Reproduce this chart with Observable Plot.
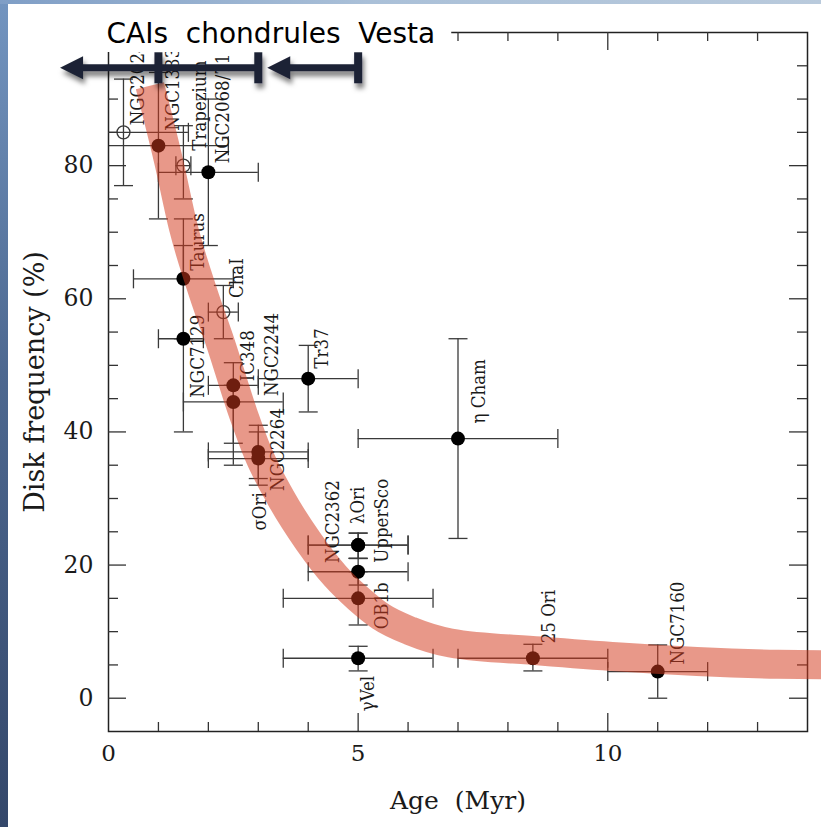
<!DOCTYPE html>
<html>
<head>
<meta charset="utf-8">
<script src="https://cdn.jsdelivr.net/npm/d3@7"></script>
<script src="https://cdn.jsdelivr.net/npm/@observablehq/plot@0.6"></script>
<style>
  html, body { margin: 0; padding: 0; background: #fff; overflow: hidden; }
  #wrap { position: relative; width: 821px; height: 827px; }
  #leftStrip { position: absolute; left: 0; top: 0; width: 8px; height: 827px;
    background: linear-gradient(to bottom, #7395c0 0%, #4d6890 45%, #34476a 100%); }
  #topStrip { position: absolute; left: 0; top: 0; width: 821px; height: 4px;
    background: linear-gradient(to right, #7f9ec6 0%, #aac0d8 45%, #b9cadc 100%); }
</style>
</head>
<body>
<div id="wrap"><div id="chart"></div><div id="leftStrip"></div><div id="topStrip"></div></div>
<script>
// ---------- data ----------
const clusters = ["NGC2024","NGC1333","Trapezium","NGC2068/71","Taurus","ChaI","NGC7129","IC348","NGC2244","NGC2264","σOri","Tr37","NGC2362","λOri","UpperSco","OB1b","γVel","η Cham","25 Ori","NGC7160"];
const age      = [0.3, 1.0, 1.5, 2.0, 1.5, 2.3, 1.5, 2.5, 2.5, 3.0, 3.0, 4.0, 5.0, 5.0, 5.0, 5.0, 5.0, 7.0, 8.5, 11.0];
const ageLo    = [-1.0,-0.4, 1.35,1.0, 0.5, 2.0, 1.0, 2.0, 1.5, 2.0, 2.0, 3.0, 4.0, 4.0, 4.0, 3.5, 3.5, 5.0, 7.0, 10.0];
const ageHi    = [1.6, 2.4, 1.65,3.0, 2.5, 2.6, 1.9, 3.0, 3.5, 4.0, 4.0, 5.0, 6.0, 6.0, 6.0, 6.5, 6.5, 9.0, 10.0, 12.0];
const diskFreq = [85, 83, 80, 79, 63, 58, 54, 47, 44.5, 37, 36, 48, 23, 23, 19, 15, 6, 39, 6, 4];
const freqLo   = [77, 72, 75, 68, 54, 54, 40, 38.3, 35, 33, 32, 43, 21, 21, 17, 11, 4.1, 24, 4.1, 0];
const freqHi   = [93, 94, 86, 90, 72, 62, 68, 50.4, 47, 41, 40, 53, 24.8, 24.8, 21, 19, 7.8, 54, 8.1, 8];
const openSym  = [true, false, true, false, false, true, false, false, false, false, false, false, false, false, false, false, false, false, false, false];

// thick decay band
const bandAge  = [0.83, 1.2, 1.5, 1.9, 2.25, 2.7, 3.0, 3.45, 4.0, 4.55, 5.0, 5.45, 6.05, 6.85, 8.65, 10.25, 13.4, 14.5];
const bandFreq = [92, 80.8, 70.7, 60.8, 53.2, 42.7, 36.7, 30.1, 23.6, 18.3, 15.0, 12.3, 10.1, 8.3, 7.1, 6.2, 5.1, 5.0];

// meteoritic timeline arrows
const arrowFrom = [3, 5];
const arrowTo   = [-0.97, 3.18];
const arrowCaps = [1, 3, 5];
const arrowLevel = 94.7;
const timelineTitle = "CAIs  chondrules  Vesta";

const xTickLabels = [0, 5, 10];
const yTickLabels = [0, 20, 40, 60, 80];

// ---------- layout ----------
const W = 821, H = 827, mL = 108, mR = 14, mT = 32, mB = 96;
const innerW = W - mL - mR, innerH = H - mT - mB;
const serif = "DejaVu Serif";
const labelFont = "'DejaVu Serif Condensed', 'DejaVu Serif'";
const ink = "#1a1a1a", barColor = "#3a3a3a", navy = "#1c2235";

const labelOffsets = {
  "NGC2024": [14.5, -7], "NGC1333": [15, -15], "Trapezium": [17, -15], "NGC2068/71": [15, -9],
  "Taurus": [15, -8], "ChaI": [14, -14], "NGC7129": [15, 59], "IC348": [15, -4],
  "NGC2244": [39, -6], "NGC2264": [20, 39], "σOri": [2, 72], "Tr37": [14, -10],
  "NGC2362": [-25, 18], "λOri": [0, -21], "UpperSco": [24, -9], "OB1b": [24, 31],
  "γVel": [10, 53], "η Cham": [21, -15], "25 Ori": [16, -15], "NGC7160": [20, -7]
};

const rows = clusters.map((name, i) => ({
  name, age: age[i], ageLo: ageLo[i], ageHi: ageHi[i],
  freq: diskFreq[i], freqLo: freqLo[i], freqHi: freqHi[i], open: openSym[i]
}));
const band = bandAge.map((a, i) => ({age: a, freq: bandFreq[i]}));
const arrows = arrowFrom.map((f, i) => ({from: f, to: arrowTo[i]}));

// custom symbols
const vCap = {draw(ctx) { ctx.moveTo(0, -9.5); ctx.lineTo(0, 9.5); }};
const hCap = {draw(ctx) { ctx.moveTo(-9.5, 0); ctx.lineTo(9.5, 0); }};
const bigCap = {draw(ctx) { ctx.moveTo(0, -15.5); ctx.lineTo(0, 15.5); }};
const headLeft = {draw(ctx) { ctx.moveTo(0, 0); ctx.lineTo(23, -11.5); ctx.lineTo(23, 11.5); ctx.closePath(); }};

const xMinor = d3.range(1, 14).filter(v => v % 5 !== 0);
const xMajor = d3.range(5, 14, 5);
const yMinor = d3.range(5, 100, 5).filter(v => v % 20 !== 0);
const yMajor = d3.range(0, 100, 20);

const tickStyle = {stroke: "#333", strokeWidth: 1.3};
const tag = (s) => () => s;

const labelMarks = rows.map(r => Plot.text([r], {
  x: "age", y: "freq", text: "name", rotate: -90, textAnchor: "start", lineAnchor: "middle",
  dx: labelOffsets[r.name][0], dy: labelOffsets[r.name][1],
  fontSize: 18.5, fontFamily: labelFont, fill: ink
}));

const chart = Plot.plot({
  width: W, height: H,
  marginLeft: mL, marginRight: mR, marginTop: mT, marginBottom: mB,
  x: {domain: [0, 14]},
  y: {domain: [-5, 100]},
  style: {background: "white", overflow: "visible"},
  marks: [
    // error bars
    Plot.ruleY(rows, {y: "freq", x1: "ageLo", x2: "ageHi", stroke: barColor, strokeWidth: 1.3, clip: "frame"}),
    Plot.ruleX(rows, {x: "age", y1: "freqLo", y2: "freqHi", stroke: barColor, strokeWidth: 1.3, clip: "frame"}),
    Plot.dot(rows, {x: "ageLo", y: "freq", symbol: vCap, r: 1, fill: "none", stroke: barColor, strokeWidth: 1.3, clip: "frame"}),
    Plot.dot(rows, {x: "ageHi", y: "freq", symbol: vCap, r: 1, fill: "none", stroke: barColor, strokeWidth: 1.3, clip: "frame"}),
    Plot.dot(rows, {x: "age", y: "freqLo", symbol: hCap, r: 1, fill: "none", stroke: barColor, strokeWidth: 1.3, clip: "frame"}),
    Plot.dot(rows, {x: "age", y: "freqHi", symbol: hCap, r: 1, fill: "none", stroke: barColor, strokeWidth: 1.3, clip: "frame"}),
    // points
    Plot.dot(rows.filter(d => !d.open), {x: "age", y: "freq", r: 7, fill: "#000", stroke: "none"}),
    Plot.dot(rows.filter(d => d.open), {x: "age", y: "freq", r: 6.5, fill: "none", stroke: barColor, strokeWidth: 1.3}),
    // labels
    ...labelMarks,
    // frame & ticks
    Plot.frame({stroke: "#222", strokeWidth: 1.5}),
    Plot.ruleX(xMinor, {x: d => d, insetTop: innerH - 9, ...tickStyle}),
    Plot.ruleX(xMinor, {x: d => d, insetBottom: innerH - 9, ...tickStyle}),
    Plot.ruleX(xMajor, {x: d => d, insetTop: innerH - 18, ...tickStyle}),
    Plot.ruleX(xMajor, {x: d => d, insetBottom: innerH - 18, ...tickStyle}),
    Plot.ruleY(yMinor, {y: d => d, insetRight: innerW - 10, ...tickStyle}),
    Plot.ruleY(yMinor, {y: d => d, insetLeft: innerW - 10, ...tickStyle}),
    Plot.ruleY(yMajor, {y: d => d, insetRight: innerW - 18, ...tickStyle}),
    Plot.ruleY(yMajor, {y: d => d, insetLeft: innerW - 18, ...tickStyle}),
    // tick labels
    Plot.axisX(xTickLabels, {anchor: "bottom", tickSize: 0, tickPadding: 13, fontSize: 23, fontFamily: serif, fill: ink, label: null}),
    Plot.axisY(yTickLabels, {anchor: "left", tickSize: 0, tickPadding: 15, fontSize: 23.5, fontFamily: serif, fill: ink, label: null}),
    // axis titles
    Plot.text(["Age  (Myr)"], {frameAnchor: "bottom", textAnchor: "middle", lineAnchor: "bottom", dy: 77, fontSize: 25, fontFamily: serif, fill: ink, ariaLabel: tag("xtitle")}),
    Plot.text(["Disk frequency (%)"], {frameAnchor: "left", textAnchor: "middle", rotate: -90, lineAnchor: "bottom", dx: -65, fontSize: 27, fontFamily: serif, fill: ink, ariaLabel: tag("ytitle")}),
    // band
    Plot.line(band, {x: "age", y: "freq", stroke: "rgb(211,58,29)", strokeOpacity: 0.52, strokeWidth: 29,
      curve: "monotone-x", strokeLinecap: "butt", strokeLinejoin: "round"}),
    // arrows
    Plot.ruleY(arrows, {y: () => arrowLevel, x1: "to", x2: "from", insetLeft: 20, stroke: navy, strokeWidth: 7, ariaLabel: tag("arrow")}),
    Plot.dot(arrows, {x: "to", y: () => arrowLevel, symbol: headLeft, r: 1, fill: navy, stroke: "none", ariaLabel: tag("arrow")}),
    Plot.dot(arrowCaps, {x: d => d, y: () => arrowLevel, symbol: bigCap, r: 1, fill: "none", stroke: navy, strokeWidth: 8, ariaLabel: tag("arrow")}),
    // timeline title
    Plot.text([timelineTitle], {frameAnchor: "top-left", textAnchor: "start", lineAnchor: "bottom", dx: -2, dy: 10,
      fontSize: 28, fontFamily: "DejaVu Sans", fill: "#000", ariaLabel: tag("title")})
  ]
});

document.getElementById("chart").appendChild(chart);
const svg = d3.select(chart);
svg.selectAll('text[aria-label="xtitle"], text[aria-label="title"]').style("white-space", "pre");

// shadow for arrows
const defs = svg.insert("defs", ":first-child");
const f = defs.append("filter").attr("id", "arrowShadow").attr("x", "-20%").attr("y", "-80%").attr("width", "140%").attr("height", "260%");
f.append("feDropShadow").attr("dx", 2).attr("dy", 5).attr("stdDeviation", 2.5).attr("flood-color", "#000").attr("flood-opacity", 0.5);

const titleText = svg.select('text[aria-label="title"]').node();
const titleGroup = titleText ? titleText.closest("svg > g") || titleText.parentNode : null;

const arrowGroups = Array.from(new Set(svg.selectAll('[aria-label="arrow"]').nodes().map(n => n.closest("svg > g") || n.parentNode)));
const arrowWrap = document.createElementNS("http://www.w3.org/2000/svg", "g");
arrowWrap.setAttribute("filter", "url(#arrowShadow)");
if (titleGroup) chart.insertBefore(arrowWrap, titleGroup); else chart.appendChild(arrowWrap);
arrowGroups.forEach(n => arrowWrap.appendChild(n));

// white box behind title
if (titleText) {
  const tb = titleText.getBoundingClientRect();
  const sb = chart.getBoundingClientRect();
  const rect = document.createElementNS("http://www.w3.org/2000/svg", "rect");
  const top = tb.top - sb.top;
  rect.setAttribute("x", tb.left - sb.left - 6);
  rect.setAttribute("y", top);
  rect.setAttribute("width", tb.width + 22);
  rect.setAttribute("height", Math.max(0, 52 - top));
  rect.setAttribute("fill", "white");
  chart.insertBefore(rect, titleGroup);
}
</script>
</body>
</html>
